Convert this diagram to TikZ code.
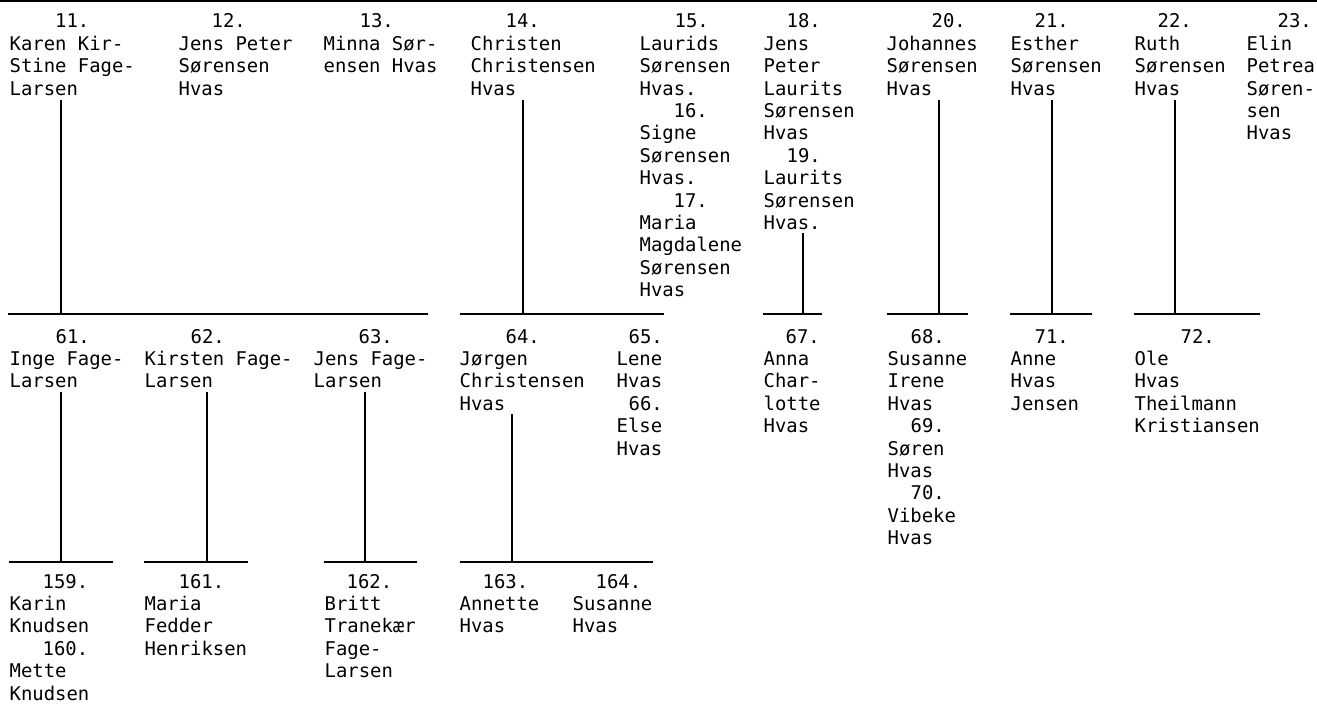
\documentclass[tikz,border=0pt]{standalone}
\usepackage{fontspec}
\setmonofont{DejaVu Sans Mono}
\newcommand\blkt[1]{\begin{tabular}[t]{@{}l@{}}#1\end{tabular}}
\newcommand\ind[1]{\hspace*{#1pt}}
\begin{document}
\begin{tikzpicture}[x=1pt,y=-1pt,
  person/.style={anchor=base west, inner sep=0pt, font=\ttfamily\fontsize{18.9}{22.4}\selectfont},
  link/.style={line width=1.6pt, black}]
\useasboundingbox (0,0) rectangle (1317,706);
% top edge rule
\coordinate (tl) at (0,1);
\coordinate (tr) at (1317,1);
\draw[line width=1.6pt] (tl) -- (tr);

% ---------- generation 1 ----------
\node[person] (p11) at (9.5,28) {\blkt{\ind{45.5}11.\\Karen Kir-\\Stine Fage-\\Larsen}};
\node[person] (p12) at (178.5,28) {\blkt{\ind{33}12.\\Jens Peter\\Sørensen\\Hvas}};
\node[person] (p13) at (323.5,28) {\blkt{\ind{36}13.\\Minna Sør-\\ensen Hvas}};
\node[person] (p14) at (470.5,28) {\blkt{\ind{35}14.\\Christen\\Christensen\\Hvas}};
\node[person] (p15) at (639.5,28) {\blkt{\ind{35}15.\\Laurids\\Sørensen\\Hvas.\\\ind{34}16.\\Signe\\Sørensen\\Hvas.\\\ind{34}17.\\Maria\\Magdalene\\Sørensen\\Hvas}};
\node[person] (p18) at (763.5,28) {\blkt{\ind{23}18.\\Jens\\Peter\\Laurits\\Sørensen\\Hvas\\\ind{23}19.\\Laurits\\Sørensen\\Hvas.}};
\node[person] (p20) at (886.5,28) {\blkt{\ind{45}20.\\Johannes\\Sørensen\\Hvas}};
\node[person] (p21) at (1010.5,28) {\blkt{\ind{24}21.\\Esther\\Sørensen\\Hvas}};
\node[person] (p22) at (1134.5,28) {\blkt{\ind{23}22.\\Ruth\\Sørensen\\Hvas}};
\node[person] (p23) at (1246.5,28) {\blkt{\ind{31}23.\\Elin\\Petrea\\Søren-\\sen\\Hvas}};

% ---------- generation 2 ----------
\node[person] (p61) at (9.5,343) {\blkt{\ind{46}61.\\Inge Fage-\\Larsen}};
\node[person] (p62) at (144.5,343) {\blkt{\ind{46}62.\\Kirsten Fage-\\Larsen}};
\node[person] (p63) at (313.5,343) {\blkt{\ind{45}63.\\Jens Fage-\\Larsen}};
\node[person] (p64) at (459.5,343) {\blkt{\ind{46}64.\\Jørgen\\Christensen\\Hvas}};
\node[person] (p65) at (616.5,343) {\blkt{\ind{12}65.\\Lene\\Hvas\\\ind{12}66.\\Else\\Hvas}};
\node[person] (p67) at (763.5,343) {\blkt{\ind{22}67.\\Anna\\Char-\\lotte\\Hvas}};
\node[person] (p68) at (887.5,343) {\blkt{\ind{23}68.\\Susanne\\Irene\\Hvas\\\ind{23}69.\\Søren\\Hvas\\\ind{23}70.\\Vibeke\\Hvas}};
\node[person] (p71) at (1010.5,343) {\blkt{\ind{24}71.\\Anne\\Hvas\\Jensen}};
\node[person] (p72) at (1134.5,343) {\blkt{\ind{46}72.\\Ole\\Hvas\\Theilmann\\Kristiansen}};

% ---------- generation 3 ----------
\node[person] (p159) at (9.5,588) {\blkt{\ind{33}159.\\Karin\\Knudsen\\\ind{33}160.\\Mette\\Knudsen}};
\node[person] (p161) at (144.5,588) {\blkt{\ind{34}161.\\Maria\\Fedder\\Henriksen}};
\node[person] (p162) at (324.5,588) {\blkt{\ind{22}162.\\Britt\\Tranekær\\Fage-\\Larsen}};
\node[person] (p163) at (459.5,588) {\blkt{\ind{23}163.\\Annette\\Hvas}};
\node[person] (p164) at (572.5,588) {\blkt{\ind{23}164.\\Susanne\\Hvas}};

% ---------- connectors gen 1 -> gen 2 ----------
\coordinate (d11) at (61,100);
\coordinate (b11w) at (8,314);   \coordinate (b11e) at (428,314);
\draw[link] (b11w) -- (b11e);
\draw[link] (d11) -- (d11 |- b11w);

\coordinate (d14) at (523,100);
\coordinate (b14w) at (460,314); \coordinate (b14e) at (664,314);
\draw[link] (b14w) -- (b14e);
\draw[link] (d14) -- (d14 |- b14w);

\coordinate (d18) at (803,233);
\coordinate (b18w) at (763,314); \coordinate (b18e) at (822,314);
\draw[link] (b18w) -- (b18e);
\draw[link] (d18) -- (d18 |- b18w);

\coordinate (d20) at (939,100);
\coordinate (b20w) at (887,314); \coordinate (b20e) at (968,314);
\draw[link] (b20w) -- (b20e);
\draw[link] (d20) -- (d20 |- b20w);

\coordinate (d21) at (1052,100);
\coordinate (b21w) at (1010,314); \coordinate (b21e) at (1092,314);
\draw[link] (b21w) -- (b21e);
\draw[link] (d21) -- (d21 |- b21w);

\coordinate (d22) at (1175,100);
\coordinate (b22w) at (1134,314); \coordinate (b22e) at (1260,314);
\draw[link] (b22w) -- (b22e);
\draw[link] (d22) -- (d22 |- b22w);

% ---------- connectors gen 2 -> gen 3 ----------
\coordinate (d61) at (61,392);
\coordinate (b61w) at (9,562);   \coordinate (b61e) at (113,562);
\draw[link] (b61w) -- (b61e);
\draw[link] (d61) -- (d61 |- b61w);

\coordinate (d62) at (207,392);
\coordinate (b62w) at (144,562); \coordinate (b62e) at (248,562);
\draw[link] (b62w) -- (b62e);
\draw[link] (d62) -- (d62 |- b62w);

\coordinate (d63) at (365,392);
\coordinate (b63w) at (324,562); \coordinate (b63e) at (417,562);
\draw[link] (b63w) -- (b63e);
\draw[link] (d63) -- (d63 |- b63w);

\coordinate (d64) at (512,414);
\coordinate (b64w) at (460,562); \coordinate (b64e) at (653,562);
\draw[link] (b64w) -- (b64e);
\draw[link] (d64) -- (d64 |- b64w);
\end{tikzpicture}
\end{document}
